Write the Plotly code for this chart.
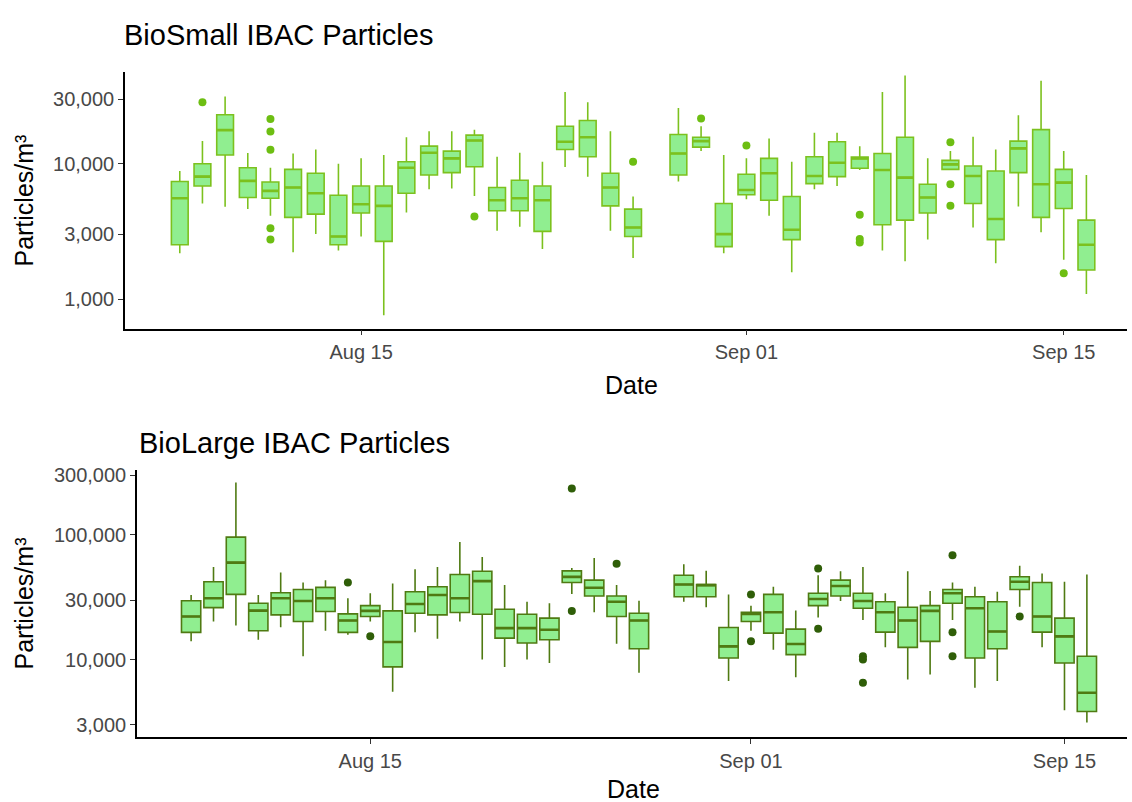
import plotly.graph_objects as go

# ---------------- data ----------------
dates = ["2021-08-07", "2021-08-08", "2021-08-09", "2021-08-10", "2021-08-11", "2021-08-12",
         "2021-08-13", "2021-08-14", "2021-08-15", "2021-08-16", "2021-08-17", "2021-08-18",
         "2021-08-19", "2021-08-20", "2021-08-21", "2021-08-22", "2021-08-23", "2021-08-24",
         "2021-08-25", "2021-08-26", "2021-08-27",
         "2021-08-29", "2021-08-30", "2021-08-31", "2021-09-01", "2021-09-02", "2021-09-03",
         "2021-09-04", "2021-09-05", "2021-09-06", "2021-09-07", "2021-09-08", "2021-09-09",
         "2021-09-10", "2021-09-11", "2021-09-12", "2021-09-13", "2021-09-14", "2021-09-15",
         "2021-09-16"]

small_hi = [8830, 14700, 31400, 12000, 9340, 11900, 12740, 10000, 10950, 11580, 15700, 17400,
            17400, 17800, 11260, 12050, 10340, 33800, 28400, 17400, 5720,
            25800, 18920, 11580, 10950, 15350, 10340, 16900, 16900, 13480, 33800, 44900, 10950,
            12390, 15800, 12740, 22800, 41000, 12390, 8250]
small_q3 = [7380, 10000, 23000, 9340, 7330, 9080, 8490, 5850, 6850, 6850, 10340, 13480,
            12390, 16250, 6670, 7540, 6850, 18920, 20840, 8490, 4620,
            16440, 15700, 5080, 8350, 10950, 5720, 11260, 14520, 11190, 11900, 15700, 7050,
            10580, 9610, 8830, 14680, 17860, 9080, 3830]
small_med = [5560, 8020, 17700, 7470, 6300, 6670, 6050, 2900, 5020, 4880, 9340, 12050,
             10950, 14850, 5370, 5560, 5370, 14520, 15700, 6670, 3380,
             11900, 14680, 3020, 6400, 8490, 3250, 8110, 10170, 10950, 8980, 7890, 5630,
             9890, 8110, 3900, 12970, 7050, 7250, 2520]
small_q1 = [2520, 6850, 11600, 5630, 5560, 4010, 4240, 2520, 4320, 2670, 6050, 8250,
            8590, 9500, 4490, 4490, 3160, 12740, 11260, 4880, 2900,
            8250, 13260, 2440, 5890, 5370, 2750, 7130, 8020, 9250, 3540, 3830, 4320,
            9080, 5080, 2750, 8590, 4010, 4670, 1640]
small_lo = [2180, 5080, 4800, 4620, 4120, 2220, 3020, 2280, 2900, 760, 4360, 6480,
            6550, 5780, 3200, 3420, 2340, 9450, 8020, 3200, 2010,
            7380, 12390, 2180, 5470, 4120, 1580, 6480, 6850, 8980, 2280, 1900, 2750,
            9000, 3380, 1840, 4830, 3110, 1950, 1090]
small_out_dates = ["2021-08-08", "2021-08-11", "2021-08-11", "2021-08-11", "2021-08-11",
                   "2021-08-11", "2021-08-20", "2021-08-27", "2021-08-30", "2021-09-01",
                   "2021-09-06", "2021-09-06", "2021-09-06", "2021-09-10", "2021-09-10",
                   "2021-09-10", "2021-09-15"]
small_out_vals = [28400, 21400, 17300, 12700, 3330, 2750, 4070, 10340, 21550, 13640,
                  4200, 2780, 2620, 14420, 7050, 4880, 1550]

large_hi = [32900, 55300, 262000, 32900, 49900, 41500, 43300, 30990, 33970, 40740, 52960, 55300,
            87500, 66400, 39540, 29110, 28250, 54300, 65200, 39540, 29650,
            58050, 51400, 33300, 27050, 38380, 24700, 47450, 51000, 55300, 33970, 51000, 35400,
            41500, 38380, 34980, 56400, 49000, 42000, 48090]
large_q3 = [29650, 42000, 95700, 28250, 34360, 36480, 37880, 23240, 27050, 24550, 34980, 38380,
            48090, 51000, 25290, 23070, 21480, 51400, 43300, 32300, 23500,
            47450, 40000, 18070, 23930, 33300, 17540, 33970, 43300, 33970, 29110, 26240, 27050,
            36480, 31900, 29110, 46060, 41500, 21480, 10630]
large_med = [22130, 30990, 59800, 24700, 30990, 29460, 30990, 20550, 24550, 13820, 27910, 32900,
             30990, 42540, 17860, 17860, 17340, 46000, 37670, 29110, 20550,
             40000, 39540, 12760, 23240, 23930, 13330, 30550, 38840, 29460, 23930, 20550, 24550,
             33970, 25760, 16800, 42000, 22130, 15350, 5430]
large_q1 = [16520, 26100, 33300, 17010, 22800, 20180, 24280, 16520, 22130, 8740, 23500, 22800,
            23840, 23070, 14870, 13580, 14420, 41500, 32300, 22130, 12230,
            31900, 31900, 10310, 20180, 16300, 10960, 27050, 32300, 25760, 16600, 12530, 14000,
            28250, 10310, 12230, 36480, 16600, 9400, 3840]
large_lo = [14000, 20180, 18750, 14420, 18200, 10630, 17010, 15810, 20180, 5530, 16600, 14700,
            20180, 10000, 8740, 10000, 9400, 33500, 23930, 13400, 7830,
            29110, 26240, 6730, 17010, 12020, 7230, 21740, 29460, 20800, 12530, 6930, 7600,
            20800, 5960, 6730, 26550, 12530, 3930, 3130]
large_out_dates = ["2021-08-14", "2021-08-15", "2021-08-24", "2021-08-24", "2021-08-26",
                   "2021-09-01", "2021-09-01", "2021-09-04", "2021-09-04", "2021-09-06",
                   "2021-09-06", "2021-09-06", "2021-09-10", "2021-09-10", "2021-09-10",
                   "2021-09-13"]
large_out_vals = [41500, 15350, 235000, 24550, 58700, 33300, 14000, 53600, 17660, 10630,
                  10000, 6520, 68500, 16600, 10630, 22130]

small_ticks = [1000, 3000, 10000, 30000]
small_ticktext = ["1,000", "3,000", "10,000", "30,000"]
large_ticks = [3000, 10000, 30000, 100000, 300000]
large_ticktext = ["3,000", "10,000", "30,000", "100,000", "300,000"]
date_ticks = ["2021-08-15", "2021-09-01", "2021-09-15"]
date_ticktext = ["Aug 15", "Sep 01", "Sep 15"]

# ---------------- styling ----------------
W, H = 1132, 802
DAY_MS = 86400000
FONT = "Liberation Sans, Arial, sans-serif"
FILL = "#90EE90"
SMALL_LINE = "#7CC11E"
SMALL_PT = "#6DBE12"
LARGE_LINE = "#4F7A12"
LARGE_PT = "#2F5E08"


def px_x(p):
    return p / W


def px_y(p):
    return 1 - p / H


fig = go.Figure()


def add_panel(xa, ya, hi, q3, med, q1, lo, od, ov, line_col, pt_col, width_days):
    fig.add_trace(go.Box(
        x=dates, q1=q1, median=med, q3=q3, lowerfence=lo, upperfence=hi,
        fillcolor=FILL, line=dict(color=line_col, width=1.6), whiskerwidth=0,
        width=width_days * DAY_MS, boxpoints=False, xaxis=xa, yaxis=ya,
        showlegend=False, hoverinfo="skip"))
    # thicker median bar, as ggplot draws it
    fig.add_trace(go.Box(
        x=dates, q1=med, median=med, q3=med, lowerfence=med, upperfence=med,
        fillcolor="rgba(0,0,0,0)", line=dict(color=line_col, width=2.6), whiskerwidth=0,
        width=width_days * DAY_MS, boxpoints=False, xaxis=xa, yaxis=ya,
        showlegend=False, hoverinfo="skip"))
    fig.add_trace(go.Scatter(
        x=od, y=ov, mode="markers", marker=dict(color=pt_col, size=8),
        xaxis=xa, yaxis=ya, showlegend=False, hoverinfo="skip"))


add_panel("x", "y", small_hi, small_q3, small_med, small_q1, small_lo,
          small_out_dates, small_out_vals, SMALL_LINE, SMALL_PT, 0.74)
add_panel("x2", "y2", large_hi, large_q3, large_med, large_q1, large_lo,
          large_out_dates, large_out_vals, LARGE_LINE, LARGE_PT, 0.86)

xrange = ["2021-08-04 14:00", "2021-09-17 19:00"]
axis_common = dict(showline=True, linecolor="black", linewidth=1.6, ticks="outside",
                   ticklen=5, tickwidth=1.2, tickcolor="#333333", showgrid=False,
                   zeroline=False, tickfont=dict(family=FONT, size=20, color="#484848"))

fig.update_layout(
    width=W, height=H, margin=dict(l=0, r=0, t=0, b=0),
    paper_bgcolor="white", plot_bgcolor="white", boxmode="overlay",
    xaxis=dict(domain=[px_x(125), px_x(1127)], anchor="y", type="date", range=xrange,
               tickvals=date_ticks, ticktext=date_ticktext, **axis_common),
    yaxis=dict(domain=[px_y(325), px_y(66)], anchor="x", type="log",
               range=[2.782, 4.681], tickvals=small_ticks, ticktext=small_ticktext,
               **axis_common),
    xaxis2=dict(domain=[px_x(137), px_x(1127)], anchor="y2", type="date", range=xrange,
                tickvals=date_ticks, ticktext=date_ticktext, **axis_common),
    yaxis2=dict(domain=[px_y(737), px_y(468)], anchor="x2", type="log",
                range=[3.376, 5.515], tickvals=large_ticks, ticktext=large_ticktext,
                **axis_common),
)

ann = []
ann.append(dict(text="BioSmall IBAC Particles", x=px_x(122), y=px_y(29), xanchor="left",
                yanchor="middle", font=dict(family=FONT, size=29, color="black")))
ann.append(dict(text="BioLarge IBAC Particles", x=px_x(137), y=px_y(440), xanchor="left",
                yanchor="middle", font=dict(family=FONT, size=29, color="black")))
for yc in (196, 602):
    ann.append(dict(text="Particles/m³", x=px_x(24), y=px_y(yc), xanchor="center",
                    yanchor="middle", textangle=-90,
                    font=dict(family=FONT, size=25, color="black")))
ann.append(dict(text="Date", x=px_x(631), y=px_y(382), xanchor="center", yanchor="middle",
                font=dict(family=FONT, size=25, color="black")))
ann.append(dict(text="Date", x=px_x(633), y=px_y(789), xanchor="center", yanchor="middle",
                font=dict(family=FONT, size=25, color="black")))
for a in ann:
    a.update(xref="paper", yref="paper", showarrow=False)
fig.update_layout(annotations=ann)

fig.write_html("out.html", config={"displayModeBar": False},
               post_script="document.body.style.margin='0';document.body.style.overflow='hidden';")
